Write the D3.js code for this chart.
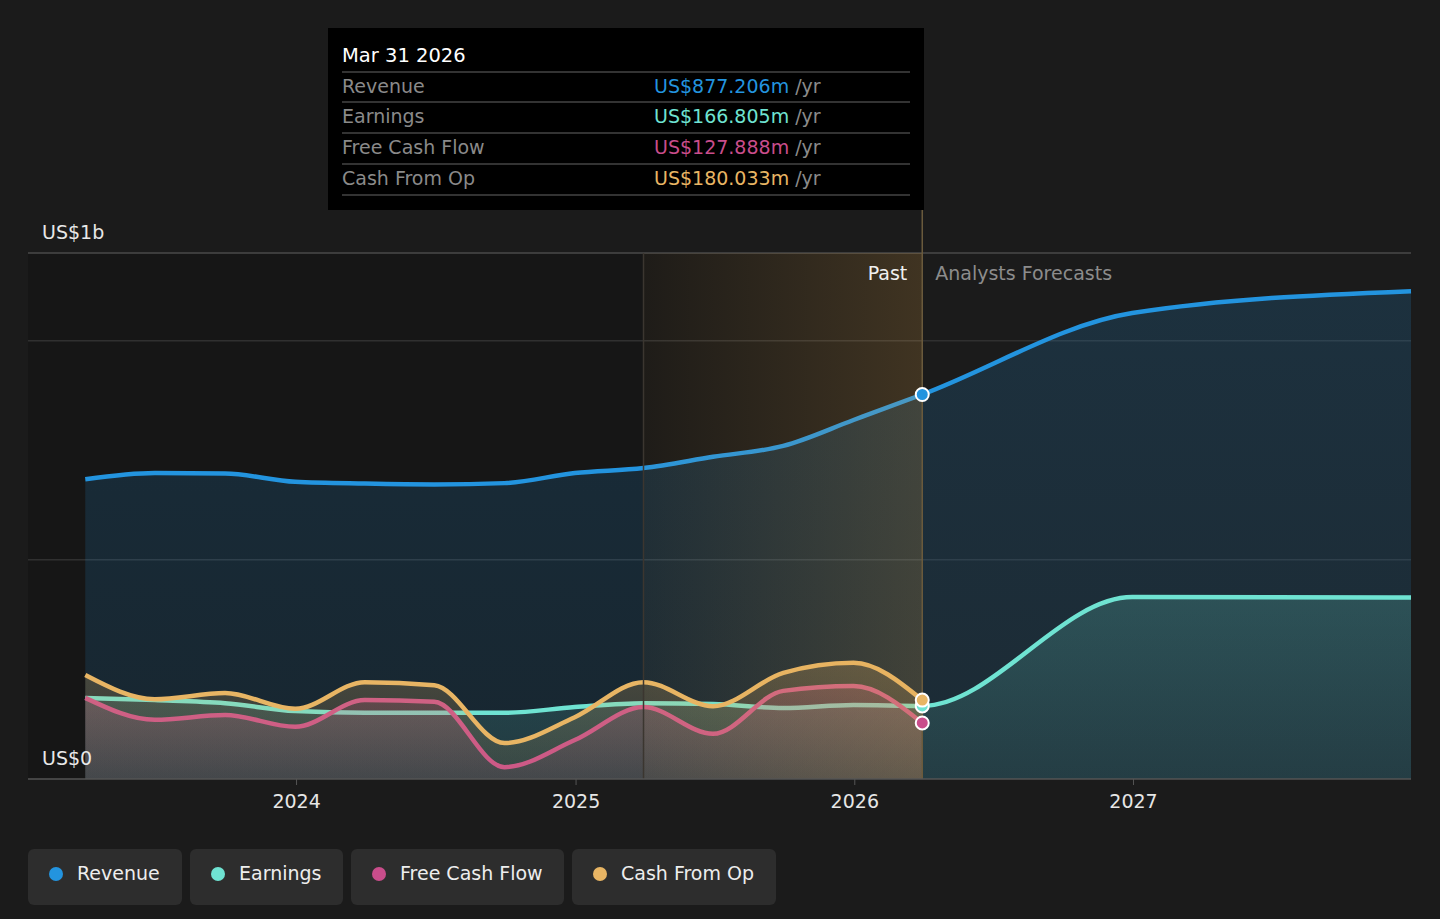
<!DOCTYPE html>
<html lang="en">
<head>
<meta charset="UTF-8">
<script src="https://d3js.org/d3.v7.min.js"></script>
<title>Revenue and earnings</title>
<style>
  html, body { margin: 0; padding: 0; background: #1b1b1b; }
  svg { display: block; font-family: 'DejaVu Sans', sans-serif; }
</style>
</head>
<body>
<svg width="1440" height="919"></svg>
<script>
  // quarterly history, then analyst forecasts
  const pastDates = ["2023-03-31","2023-06-30","2023-09-30","2023-12-31","2024-03-31","2024-06-30",
                     "2024-09-30","2024-12-31","2025-03-31","2025-06-30","2025-09-30","2025-12-31","2026-03-31"];
  const forecastDates = ["2026-12-31","2027-12-31"];

  const revenue      = [684, 698, 697, 678, 674, 672, 675, 698, 709.5, 735, 760, 819, 877.206];
  const revenueFc    = [1063, 1113];
  const earnings     = [185, 180, 173, 155, 151, 151, 151, 164, 173, 171, 162, 169, 166.805];
  const earningsFc   = [415, 414];
  const freeCashFlow = [185, 135, 146, 119, 180, 176, 27, 89, 164, 103, 201, 212, 127.888];
  const cashFromOp   = [237, 182, 196, 160, 221, 214, 82, 141, 221, 166, 242, 265, 180.033];

  const yearTicks = ["2024-01-01","2025-01-01","2026-01-01","2027-01-01"];
  const yLabels = [{v: 1200, t: "US$1b"}, {v: 0, t: "US$0"}];
  const gridValues = [500, 1000, 1200];

  const svg = d3.select("svg");
  const parse = d3.utcParse("%Y-%m-%d");
  const x = d3.scaleUtc().domain([parse("2023-01-15"), parse("2027-12-31")]).range([28, 1411]);
  const y = d3.scaleLinear().domain([0, 1200]).range([779, 253]);
  const nowDate = parse(pastDates[pastDates.length - 1]);
  const bandStart = parse("2025-03-31");

  const series = [
    {name: "Revenue", color: "#2394df", past: revenue, fc: revenueFc, tip: "US$877.206m"},
    {name: "Earnings", color: "#6fe3d2", past: earnings, fc: earningsFc, tip: "US$166.805m"},
    {name: "Free Cash Flow", color: "#c94d8b", past: freeCashFlow, fc: [], tip: "US$127.888m"},
    {name: "Cash From Op", color: "#e8b564", past: cashFromOp, fc: [], tip: "US$180.033m"}
  ];
  series.forEach(s => {
    s.points = pastDates.map((d, i) => ({date: parse(d), value: s.past[i]}))
      .concat(s.fc.map((v, i) => ({date: parse(forecastDates[i]), value: v})));
  });

  const defs = svg.append("defs");

  // past region darker
  svg.append("rect").attr("x", 28).attr("y", y(1200))
    .attr("width", x(nowDate) - 28).attr("height", y(0) - y(1200)).attr("fill", "#161616");

  // grid
  svg.append("g").selectAll("line").data(gridValues).join("line")
    .attr("x1", 28).attr("x2", 1411).attr("y1", d => y(d)).attr("y2", d => y(d))
    .attr("stroke", d => d === 1200 ? "#4a4a4a" : "#303030").attr("stroke-width", 1.5);

  const area = d3.area().curve(d3.curveMonotoneX)
    .x(d => x(d.date)).y0(y(0)).y1(d => y(d.value));
  const line = d3.line().curve(d3.curveMonotoneX)
    .x(d => x(d.date)).y(d => y(d.value));

  const topOp = [0.18, 0.2, 0.24, 0.24];
  const botOp = [0.13, 0.1, 0.1, 0.1];
  series.forEach((s, i) => {
    const g = defs.append("linearGradient").attr("id", "ag" + i)
      .attr("x1", 0).attr("x2", 0).attr("y1", 0).attr("y2", 1);
    g.append("stop").attr("offset", "0%").attr("stop-color", s.color).attr("stop-opacity", topOp[i]);
    g.append("stop").attr("offset", "100%").attr("stop-color", s.color).attr("stop-opacity", botOp[i]);
    svg.append("path").datum(s.points).attr("d", area).attr("fill", `url(#ag${i})`);
    svg.append("path").datum(s.points).attr("d", line)
      .attr("fill", "none").attr("stroke", s.color).attr("stroke-width", 4.5);
  });

  // highlighted last year of the past
  const bg = defs.append("linearGradient").attr("id", "band").attr("x1", 0).attr("x2", 1).attr("y1", 0).attr("y2", 0);
  bg.append("stop").attr("offset", "0%").attr("stop-color", "#e6aa50").attr("stop-opacity", 0.04);
  bg.append("stop").attr("offset", "100%").attr("stop-color", "#e6aa50").attr("stop-opacity", 0.2);
  svg.append("rect").attr("x", x(bandStart)).attr("y", y(1200))
    .attr("width", x(nowDate) - x(bandStart)).attr("height", y(0) - y(1200)).attr("fill", "url(#band)");
  svg.append("line").attr("x1", x(bandStart)).attr("x2", x(bandStart)).attr("y1", y(1200)).attr("y2", y(0))
    .attr("stroke", "#3b3630").attr("stroke-width", 1.5);
  svg.append("line").attr("x1", x(nowDate)).attr("x2", x(nowDate)).attr("y1", 210).attr("y2", y(0))
    .attr("stroke", "#6a5a3c").attr("stroke-width", 1.5);

  // baseline + axis
  svg.append("line").attr("x1", 28).attr("x2", 1411).attr("y1", y(0)).attr("y2", y(0))
    .attr("stroke", "#555").attr("stroke-width", 1.5);
  const axis = d3.axisBottom(x).tickValues(yearTicks.map(parse))
    .tickFormat(d3.utcFormat("%Y")).tickSize(6).tickPadding(10);
  const ax = svg.append("g").attr("transform", `translate(0,${y(0)})`).call(axis)
    .attr("font-family", "'DejaVu Sans', sans-serif").attr("font-size", 19);
  ax.select(".domain").remove();
  ax.selectAll(".tick line").attr("stroke", "#555");
  ax.selectAll(".tick text").attr("fill", "#e6e6e6");

  svg.append("g").selectAll("text").data(yLabels).join("text")
    .attr("x", 42).attr("y", d => y(d.v) - 14)
    .attr("fill", "#e8e8e8").attr("font-size", 19).text(d => d.t);

  svg.append("text").attr("x", x(nowDate) - 15).attr("y", 280).attr("text-anchor", "end")
    .attr("fill", "#f0f0f0").attr("font-size", 19).text("Past");
  svg.append("text").attr("x", x(nowDate) + 13).attr("y", 280)
    .attr("fill", "#8c8c8c").attr("font-size", 19).text("Analysts Forecasts");

  // markers at the latest reported date
  svg.append("g").selectAll("circle").data(series).join("circle")
    .attr("cx", x(nowDate)).attr("cy", s => y(s.past[s.past.length - 1]))
    .attr("r", 6.5).attr("fill", s => s.color).attr("stroke", "#fff").attr("stroke-width", 2);

  // tooltip
  const tip = svg.append("g");
  tip.append("rect").attr("x", 328).attr("y", 28).attr("width", 596).attr("height", 182).attr("fill", "#000");
  tip.append("text").attr("x", 342).attr("y", 62).attr("fill", "#fff").attr("font-size", 19.5).text("Mar 31 2026");
  const rowY = [72, 102, 133, 164, 195];
  tip.selectAll("line").data(rowY).join("line")
    .attr("x1", 342).attr("x2", 910).attr("y1", d => d).attr("y2", d => d)
    .attr("stroke", "#444").attr("stroke-width", 1.5);
  series.forEach((s, i) => {
    const by = rowY[i] + 21;
    tip.append("text").attr("x", 342).attr("y", by).attr("fill", "#8a8a8a").attr("font-size", 19).text(s.name);
    const t = tip.append("text").attr("x", 654).attr("y", by).attr("font-size", 19);
    t.append("tspan").attr("fill", s.color).text(s.tip);
    t.append("tspan").attr("fill", "#8a8a8a").text(" /yr");
  });

  // legend
  const legendX = [28, 190, 351, 572];
  const legendW = [154, 153, 213, 204];
  const lg = svg.append("g").selectAll("g").data(series).join("g")
    .attr("transform", (d, i) => `translate(${legendX[i]},849)`);
  lg.append("rect").attr("width", (d, i) => legendW[i]).attr("height", 56).attr("rx", 6).attr("fill", "#2d2d2d");
  lg.append("circle").attr("cx", 28).attr("cy", 25).attr("r", 7).attr("fill", d => d.color);
  lg.append("text").attr("x", 49).attr("y", 31).attr("fill", "#eee").attr("font-size", 19).text(d => d.name);
</script>
</body>
</html>
